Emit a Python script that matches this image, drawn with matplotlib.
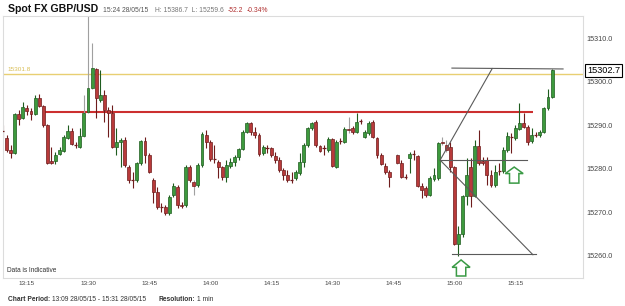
import matplotlib
matplotlib.use("Agg")
import matplotlib.pyplot as plt
import matplotlib.transforms as mtransforms
from matplotlib.patches import Polygon
import numpy as np

plt.rcParams['font.family'] = ['Liberation Sans', 'DejaVu Sans']

nan = np.nan
# one-minute candles starting 13:09
start_hour, start_min = 13, 9
opens = [15288.9, 15287.1, 15284.3, 15283.6, 15292.6, 15291.7, 15294.0, 15293.3, 15292.6, 15296.3,
         15294.5, 15290.1, 15281.8, 15281.8, 15283.4, 15284.1, 15287.1, 15288.7, 15285.5, 15285.0,
         15287.6, 15293.1, 15298.6, 15303.0, 15295.9, 15297.0, 15293.5, 15292.9, 15285.0, 15286.2,
         15286.6, 15280.4, 15277.4, 15277.4, 15281.3, 15286.4, 15283.2, 15277.4, 15274.7, 15271.2,
         15271.2, 15269.8, 15274.0, 15275.8, 15271.7, 15271.7, 15280.4, 15277.0, 15276.3, 15280.9,
         15287.8, 15286.2, 15282.3, 15281.6, 15280.4, 15278.1, 15280.6, 15281.6, 15282.7, 15284.6,
         15288.5, 15290.6, 15288.5, 15287.8, 15283.6, 15284.8, 15284.8, 15282.9, 15282.0, 15279.7,
         15278.6, 15277.6, 15277.9, 15279.0, 15281.6, 15285.5, 15289.4, 15290.8, 15285.3, 15284.8,
         15284.3, 15286.9, 15280.4, 15286.4, 15286.2, 15289.2, 15289.4, 15288.5, 15291.0, 15287.3,
         15288.2, 15290.8, 15287.1, 15283.2, 15280.6, 15279.3, nan, 15283.2, 15281.3, 15278.1,
         15282.5, 15283.4, 15282.9, 15276.0, 15275.6, 15274.0, 15277.6, 15277.9, 15286.2, 15285.5,
         15285.0, 15280.4, 15262.7, 15265.0, 15273.7, 15280.4, 15273.7, 15285.3, 15281.8, 15282.0,
         15278.6, 15276.3, 15279.5, 15279.5, 15284.3, 15287.3, 15287.1, 15289.2, 15290.6, 15289.6,
         15286.4, 15287.8, 15287.8, 15288.5, 15294.0, 15296.5]
highs = [15290.1, 15287.8, 15285.5, 15292.9, 15293.5, 15295.4, 15294.7, 15294.0, 15297.0, 15297.2,
         15294.7, 15290.3, 15285.0, 15283.9, 15285.0, 15287.8, 15290.1, 15289.4, 15286.2, 15289.4,
         15297.0, 15315.2, 15309.0, 15303.2, 15302.8, 15298.2, 15294.2, 15294.7, 15289.4, 15287.1,
         15287.3, 15280.9, 15279.3, 15281.6, 15286.6, 15287.3, 15283.6, 15277.9, 15275.8, 15272.1,
         15271.7, 15274.0, 15276.7, 15276.3, 15272.4, 15280.9, 15280.9, 15277.4, 15281.3, 15288.5,
         15288.9, 15286.6, 15285.5, 15282.0, 15280.6, 15282.0, 15282.5, 15283.2, 15284.8, 15288.9,
         15290.8, 15290.8, 15289.6, 15288.2, 15285.5, 15285.5, 15285.0, 15283.9, 15282.7, 15280.2,
         15279.7, 15279.3, 15279.7, 15283.6, 15285.9, 15289.6, 15290.8, 15291.2, 15285.5, 15285.5,
         15287.3, 15287.1, 15286.6, 15287.1, 15289.6, 15291.9, 15289.9, 15292.9, 15291.5, 15288.9,
         15291.0, 15291.2, 15287.3, 15283.6, 15281.3, 15279.7, nan, 15283.4, 15282.0, 15278.8,
         15283.9, 15284.3, 15283.2, 15276.7, 15276.0, 15278.3, 15280.2, 15286.2, 15287.3, 15286.6,
         15286.2, 15280.6, 15266.8, 15274.0, 15282.5, 15282.5, 15286.6, 15288.9, 15282.7, 15282.7,
         15279.7, 15280.9, 15281.3, 15285.0, 15288.5, 15288.2, 15290.1, 15295.2, 15292.9, 15290.1,
         15289.4, 15288.5, 15288.9, 15294.2, 15298.4, 15302.9]
lows = [15287.1, 15283.9, 15282.5, 15283.4, 15290.1, 15291.5, 15292.4, 15291.2, 15292.4, 15294.2,
        15289.6, 15281.1, 15281.1, 15281.1, 15283.2, 15283.9, 15286.9, 15285.5, 15284.8, 15284.8,
        15287.3, 15292.9, 15298.4, 15291.7, 15295.4, 15290.8, 15287.3, 15284.8, 15283.2, 15280.4,
        15280.4, 15276.7, 15275.6, 15277.0, 15280.9, 15281.3, 15279.0, 15272.1, 15270.7, 15270.0,
        15269.4, 15269.4, 15273.5, 15271.0, 15271.0, 15271.2, 15277.0, 15274.0, 15275.8, 15280.4,
        15284.8, 15281.8, 15281.3, 15277.9, 15277.4, 15277.0, 15280.2, 15280.6, 15282.0, 15284.3,
        15288.2, 15287.8, 15287.1, 15282.9, 15283.2, 15283.6, 15282.7, 15281.3, 15279.3, 15277.4,
        15277.0, 15276.7, 15277.4, 15278.6, 15280.4, 15285.0, 15288.9, 15285.0, 15283.9, 15283.2,
        15283.9, 15280.4, 15280.2, 15285.7, 15285.9, 15288.2, 15288.0, 15288.2, 15290.3, 15287.1,
        15287.8, 15287.1, 15282.5, 15280.9, 15278.8, 15275.8, nan, 15281.1, 15277.9, 15277.6,
        15279.0, 15282.0, 15275.8, 15273.3, 15273.5, 15273.7, 15277.2, 15277.4, 15285.5, 15283.9,
        15279.3, 15262.4, 15260.0, 15264.3, 15271.7, 15271.2, 15273.5, 15280.9, 15280.9, 15276.3,
        15275.8, 15275.8, 15278.6, 15279.0, 15283.9, 15283.6, 15286.6, 15288.9, 15289.4, 15285.5,
        15285.9, 15287.3, 15287.3, 15288.2, 15293.5, 15296.3]
closes = [15288.7, 15284.3, 15283.6, 15292.6, 15291.5, 15294.2, 15293.3, 15292.6, 15296.3, 15294.5,
          15290.1, 15281.3, 15281.3, 15283.2, 15284.3, 15287.3, 15288.7, 15285.7, 15285.4, 15287.6,
          15292.9, 15298.6, 15303.2, 15296.3, 15297.0, 15293.5, 15292.9, 15285.0, 15286.2, 15286.6,
          15280.9, 15277.4, 15277.3, 15281.3, 15286.4, 15283.2, 15279.3, 15274.7, 15271.2, 15271.1,
          15269.8, 15273.5, 15276.0, 15271.7, 15271.4, 15280.4, 15277.4, 15276.0, 15280.9, 15288.0,
          15286.2, 15282.3, 15282.2, 15280.4, 15278.1, 15280.9, 15281.6, 15282.7, 15284.6, 15288.5,
          15290.6, 15288.5, 15287.8, 15283.4, 15285.0, 15284.7, 15283.2, 15282.0, 15279.7, 15278.6,
          15277.4, 15277.4, 15279.3, 15281.6, 15285.5, 15289.4, 15290.6, 15285.5, 15284.1, 15284.7,
          15286.9, 15280.6, 15286.2, 15286.3, 15289.2, 15288.9, 15288.5, 15290.8, 15290.9, 15288.5,
          15290.6, 15287.3, 15283.2, 15281.1, 15279.3, 15278.1, nan, 15281.3, 15278.1, 15278.0,
          15283.4, 15283.3, 15276.0, 15275.1, 15274.0, 15277.9, 15278.6, 15285.9, 15285.9, 15284.3,
          15280.4, 15262.7, 15265.0, 15273.7, 15278.6, 15273.7, 15285.3, 15281.3, 15281.3, 15278.6,
          15276.3, 15279.3, 15279.4, 15284.3, 15287.6, 15287.2, 15289.4, 15290.6, 15289.6, 15286.2,
          15287.8, 15287.7, 15288.5, 15294.0, 15296.5, 15302.7]
# minutes whose wicks are drawn in light grey in the source chart
grey_wick_minutes = [20, 21, 22, 47, 85, 97, 108, 109]

tick_labels = ["13:15", "13:30", "13:45", "14:00", "14:15", "14:30", "14:45", "15:00", "15:15"]
y_ticks = [15260.0, 15270.0, 15280.0, 15290.0, 15300.0, 15310.0]
yellow_level = 15301.8
red_level = 15293.0
red_span = [10.2, 130.3]
last_price = 15302.7
# drawn trend lines: (minute index, price) pairs
trend_lines = [
    [(110.4, 15303.2), (137.7, 15303.0)],
    [(107.5, 15282.0), (120.3, 15303.1)],
    [(107.5, 15282.0), (128.9, 15282.0)],
    [(107.5, 15282.0), (130.3, 15260.2)],
    [(110.4, 15260.3), (131.1, 15260.3)],
]
# up-arrow markers: centre minute, tip price, head base price, bottom price
arrows = [(112.65, 15259.0, 15257.3, 15255.3), (125.7, 15280.4, 15278.9, 15276.7)]

W, H = 625, 306
fig = plt.figure(figsize=(W / 100, H / 100), dpi=100)
ax = fig.add_axes([3 / W, 1 - 278 / H, 580 / W, 262 / H])

def minutes(lbl):
    h, m = map(int, lbl.split(":"))
    return (h - start_hour) * 60 + (m - start_min)

GREEN, GREEN_E = '#3d9a3d', '#1f5c1f'
RED, RED_E = '#b83a3a', '#6e1c1c'

for i, (o, h, l, c) in enumerate(zip(opens, highs, lows, closes)):
    if np.isnan(o):
        continue
    up = c >= o
    fc, ec = (GREEN, GREEN_E) if up else (RED, RED_E)
    wc = '#a0a0a0' if i in grey_wick_minutes else ec
    ax.vlines(i, l, h, color=wc, lw=0.8, zorder=2)
    if abs(c - o) < 0.25:
        ax.hlines((o + c) / 2, i - 0.4, i + 0.4, color=ec, lw=0.9, zorder=3)
    else:
        ax.bar(i, abs(c - o), bottom=min(o, c), width=0.72, color=fc,
               edgecolor=ec, linewidth=0.5, zorder=3)

ax.axhline(yellow_level, color='#e8cf72', lw=1.0, zorder=1)
ax.hlines(red_level, red_span[0], red_span[1], color='#cc2f2f', lw=1.5, zorder=1)
for (x0, y0), (x1, y1) in trend_lines:
    ax.plot([x0, x1], [y0, y1], color='#5a5a5a', lw=0.8, zorder=4)

for cx, tip, base, bot in arrows:
    hw, sw = 2.2, 1.15
    pts = [(cx, tip), (cx + hw, base), (cx + sw, base), (cx + sw, bot),
           (cx - sw, bot), (cx - sw, base), (cx - hw, base)]
    ax.add_patch(Polygon(pts, closed=True, facecolor='white', edgecolor='#3a9a45',
                         lw=1.1, zorder=5, clip_on=False))

ax.set_xlim(0.12, 142.6)
ax.set_ylim(15254.84, 15315.2)

ax.set_xticks([minutes(t) for t in tick_labels])
ax.set_xticklabels(tick_labels)
ax.yaxis.tick_right()
ax.set_yticks(y_ticks)
ax.set_yticklabels([f"{v:.1f}" for v in y_ticks])
ax.tick_params(axis='x', length=0, pad=2, labelsize=4.6, labelcolor='#444444')
ax.tick_params(axis='y', length=0, pad=2.5, labelsize=5.2, labelcolor='#444444')
for s in ax.spines.values():
    s.set_color('#dcdcdc')
    s.set_linewidth(0.8)

trans = mtransforms.blended_transform_factory(ax.transAxes, ax.transData)
ax.text(1 + 4 / 580, last_price, f"{last_price:.1f}", transform=trans, ha='left', va='center',
        fontsize=6.6, color='black', clip_on=False, zorder=6,
        bbox=dict(boxstyle='square,pad=0.2', facecolor='white', edgecolor='black', lw=0.8))
ax.text(4 / 580, yellow_level + 0.4, f"{yellow_level:.1f}", transform=trans, ha='left',
        va='bottom', fontsize=4.6, color='#d9be55')
ax.text(4 / 580, 4 / 262, "Data is Indicative", transform=ax.transAxes, ha='left',
        va='bottom', fontsize=4.7, color='#333333')

renderer = fig.canvas.get_renderer()

def ftext(xp, yp, s, **kw):
    t = fig.text(xp / W, 1 - yp / H, s, va='baseline', ha='left', **kw)
    return t

def run(xp, yp, parts, gap=2.5):
    # draw consecutive text pieces, each after the previous one
    x = xp
    for s, kw in parts:
        t = ftext(x, yp, s, **kw)
        bb = t.get_window_extent(renderer)
        x = x + bb.width + gap

ftext(8, 12.5, "Spot FX GBP/USD", fontsize=7.6, fontweight='bold', color='#111111')
ftext(103, 11.5, "15:24 28/05/15", fontsize=4.9, color='#555555')
ftext(155, 11.5, "H: 15386.7  L: 15259.6", fontsize=4.9, color='#777777')
ftext(228, 11.5, "-52.2", fontsize=4.9, color='#b03030')
ftext(247, 11.5, "-0.34%", fontsize=4.9, color='#b03030')

fb = dict(fontsize=4.8, fontweight='bold', color='#333333')
fn = dict(fontsize=4.8, color='#333333')
run(8, 301, [("Chart Period:", fb), ("13:09 28/05/15 - 15:31 28/05/15", fn)], gap=2)
run(158, 301, [("Resolution:", fb), ("1 min", fn)], gap=2)

fig.savefig("out.png", dpi=100)
